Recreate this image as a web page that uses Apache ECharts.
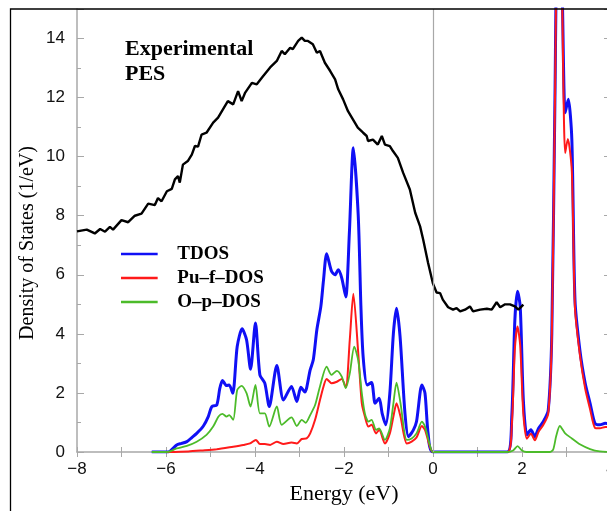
<!DOCTYPE html>
<html>
  <head>
    <meta charset="utf-8" />
    <title>DOS vs PES</title>
    <script src="https://cdn.jsdelivr.net/npm/echarts@6/dist/echarts.min.js"></script>
    <style>html, body { margin: 0; padding: 0; background: #fff; }</style>
  </head>
  <body>
    <div id="main" style="width: 607px;height:511px;"></div>
    <script type="text/javascript">

      // experimental PES (energy in eV, intensity)
      var pesE = [-8.00,-7.78,-7.60,-7.48,-7.37,-7.26,-7.19,-7.00,-6.85,-6.70,
        -6.55,-6.40,-6.25,-6.18,-6.10,-5.98,-5.87,-5.80,-5.73,-5.69,
        -5.62,-5.51,-5.42,-5.35,-5.28,-5.20,-5.09,-4.94,-4.83,-4.72,
        -4.61,-4.49,-4.38,-4.30,-4.22,-4.07,-3.96,-3.82,-3.66,-3.51,
        -3.40,-3.33,-3.21,-3.15,-3.03,-2.95,-2.88,-2.81,-2.70,-2.61,
        -2.54,-2.43,-2.31,-2.20,-2.13,-2.02,-1.91,-1.80,-1.69,-1.57,
        -1.49,-1.46,-1.35,-1.24,-1.15,-1.08,-0.97,-0.90,-0.79,-0.67,
        -0.52,-0.40,-0.29,-0.22,-0.11,0.00,0.08,0.16,0.22,0.34,
        0.45,0.53,0.61,0.72,0.83,0.90,1.06,1.21,1.32,1.43,
        1.51,1.62,1.73,1.84,1.92,2.03];
      var pesV = [7.47,7.53,7.40,7.55,7.46,7.62,7.53,7.85,7.78,8.00,
        8.07,8.41,8.36,8.60,8.49,8.83,8.91,9.23,9.34,9.12,
        9.73,9.85,10.07,10.36,10.34,10.75,10.81,11.15,11.32,11.60,
        11.88,11.77,12.22,11.88,12.17,12.50,12.45,12.72,13.02,13.24,
        13.58,13.47,13.69,13.64,13.92,14.03,13.92,13.92,13.81,13.52,
        13.58,13.18,12.90,12.62,12.28,11.94,11.54,11.26,10.98,10.81,
        10.70,10.53,10.58,10.41,10.70,10.41,10.36,10.19,9.96,9.45,
        8.89,8.10,7.64,7.19,6.40,5.70,5.40,5.38,5.16,4.90,
        4.82,4.87,4.76,4.82,4.93,4.76,4.82,4.85,4.82,5.07,
        4.90,5.00,5.00,4.93,4.82,4.99];

      // total DOS
      var tdosE = [-6.32,-5.95,-5.76,-5.65,-5.53,-5.42,-5.31,-5.16,-5.05,-4.97,
        -4.86,-4.79,-4.73,-4.64,-4.58,-4.50,-4.40,-4.29,-4.19,-4.10,
        -3.99,-3.89,-3.78,-3.68,-3.51,-3.36,-3.18,-3.06,-2.97,-2.88,
        -2.76,-2.69,-2.61,-2.52,-2.46,-2.39,-2.28,-2.20,-2.13,-2.05,
        -1.96,-1.88,-1.79,-1.68,-1.62,-1.57,-1.48,-1.38,-1.30,-1.21,
        -1.14,-1.06,-0.97,-0.89,-0.82,-0.74,-0.63,-0.55,-0.44,-0.37,
        -0.25,-0.18,-0.11,0.00,1.67,1.77,1.84,1.90,1.96,2.03,
        2.11,2.20,2.29,2.37,2.48,2.59,2.67,2.74,2.80,2.88,
        2.97,3.04,3.12,3.19,3.30,3.42,3.53,3.64,3.75,3.87,
        4.00];
      var tdosV = [0,0,0.24,0.29,0.35,0.49,0.63,0.88,1.20,1.54,
        1.59,2.16,2.42,2.25,2.27,1.99,3.57,4.17,3.80,2.80,
        4.37,2.61,2.33,1.54,2.93,1.76,2.22,1.71,2.19,2.03,
        2.78,3.12,4.14,4.93,5.83,6.71,6.12,6.00,6.17,5.89,
        5.25,7.40,10.30,8.00,4.93,3.23,2.27,2.35,1.65,1.82,
        1.29,0.92,1.99,4.02,4.87,3.91,1.31,0.52,0.75,1.03,
        2.27,1.99,0.63,0,0,1.20,4.48,5.44,4.93,1.76,
        0.58,0.75,0.52,0.80,1.03,1.42,4.02,11.94,17.5,17.0,
        11.49,11.94,10.58,5.16,3.46,2.33,1.65,0.97,0.92,0.97,
        0.95];

      // Pu f partial DOS
      var pufE = [-5.98,-5.50,-5.20,-4.86,-4.49,-4.26,-4.11,-3.98,-3.89,-3.78,
        -3.66,-3.51,-3.36,-3.18,-3.06,-2.95,-2.84,-2.76,-2.65,-2.54,
        -2.46,-2.39,-2.28,-2.16,-2.05,-1.96,-1.87,-1.79,-1.68,-1.60,
        -1.53,-1.45,-1.38,-1.28,-1.21,-1.08,-0.97,-0.89,-0.82,-0.73,
        -0.59,-0.48,-0.37,-0.25,-0.18,-0.07,0.00,1.67,1.77,1.84,
        1.90,1.96,2.03,2.11,2.20,2.29,2.37,2.48,2.59,2.67,
        2.74,2.80,2.88,2.97,3.03,3.12,3.19,3.30,3.42,3.53,
        3.64,3.75,3.87,4.00];
      var pufV = [0,0.02,0.05,0.09,0.18,0.24,0.29,0.41,0.27,0.27,
        0.24,0.35,0.27,0.32,0.29,0.44,0.46,0.63,1.09,1.76,
        2.22,2.47,2.33,2.38,2.47,2.19,3.80,5.36,3.35,1.65,
        1.20,0.86,0.92,0.63,0.75,0.29,0.63,1.20,1.65,1.20,
        0.29,0.35,0.49,0.88,0.75,0.18,0,0,0.90,3.50,
        4.25,3.60,1.30,0.45,0.62,0.40,0.68,0.92,1.30,3.90,
        11.8,17.3,16.8,10.13,10.60,9.50,4.90,3.30,2.15,1.45,
        0.82,0.80,0.85,0.85];

      // O p partial DOS
      var opE = [-6.32,-5.98,-5.76,-5.53,-5.31,-5.09,-4.94,-4.82,-4.73,-4.64,
        -4.58,-4.49,-4.40,-4.30,-4.19,-4.10,-3.99,-3.89,-3.78,-3.68,
        -3.51,-3.40,-3.18,-3.06,-2.95,-2.86,-2.76,-2.65,-2.54,-2.39,
        -2.28,-2.16,-2.05,-1.96,-1.87,-1.77,-1.68,-1.60,-1.53,-1.45,
        -1.38,-1.28,-1.21,-1.08,-0.97,-0.89,-0.82,-0.73,-0.59,-0.48,
        -0.37,-0.25,-0.18,-0.07,0.00,1.67,1.80,1.90,2.00,2.10,
        2.62,2.70,2.77,2.85,2.97,3.12,3.30,3.53,3.75,4.00];
      var opV = [0,0,0.12,0.21,0.35,0.58,0.86,1.20,1.29,1.20,
        1.25,1.09,2.10,2.24,1.99,1.54,2.27,1.31,1.31,0.86,
        1.54,0.92,1.17,0.88,1.09,0.99,1.25,1.59,2.22,2.89,
        2.61,2.75,2.55,2.16,2.66,3.57,3.10,2.00,1.30,1.03,
        1.09,0.75,0.80,0.41,0.80,1.65,2.35,1.65,0.41,0.46,
        0.63,1.03,0.86,0.23,0,0,0.05,0.20,0.05,0,
        0,0.08,0.55,0.88,0.63,0.46,0.26,0.10,0.02,0];

      var legendNames = ['TDOS', 'Pu\u2013f\u2013DOS', 'O\u2013p\u2013DOS'];

      function pairs(xs, ys) {
        var out = [];
        for (var i = 0; i < xs.length; i++) {
          out.push([xs[i], ys[i]]);
        }
        return out;
      }

      function tickText(v) {
        return v < 0 ? '\u2212' + (-v) : String(v);
      }

      var gray = '#a8a8a8';
      var chart = echarts.init(document.getElementById('main'));

      var option = {
        animation: false,
        grid: { left: 77, top: 9, width: 534, height: 443, outerBoundsMode: 'none', containLabel: false },
        xAxis: [
          {
            type: 'value', min: -8, max: 4, interval: 2, position: 'bottom',
            name: 'Energy (eV)', nameLocation: 'middle', nameGap: 29,
            nameTextStyle: { fontFamily: 'Liberation Serif', fontSize: 22, color: '#000' },
            axisLine: { show: true, onZero: false, lineStyle: { color: gray, width: 1.5 } },
            axisTick: { show: true, inside: true, length: 5, lineStyle: { color: gray } },
            minorTick: { show: true, splitNumber: 2, length: 5, lineStyle: { color: gray } },
            axisLabel: { margin: 9, fontFamily: 'Liberation Sans', fontSize: 17, color: '#111', formatter: tickText },
            splitLine: { show: false }
          },
          {
            type: 'value', min: -8, max: 4, interval: 2, position: 'top',
            axisLine: { show: false },
            axisTick: { show: true, inside: true, length: 5, lineStyle: { color: gray } },
            minorTick: { show: true, splitNumber: 2, length: 5, lineStyle: { color: gray } },
            axisLabel: { show: false },
            splitLine: { show: false }
          }
        ],
        yAxis: [
          {
            type: 'value', min: 0, max: 15, interval: 2, position: 'left',
            axisLine: { show: true, onZero: false, lineStyle: { color: gray, width: 1.5 } },
            axisTick: { show: true, inside: true, length: 7, lineStyle: { color: gray } },
            minorTick: { show: true, splitNumber: 2, length: 4, lineStyle: { color: gray } },
            axisLabel: { margin: 12, fontFamily: 'Liberation Sans', fontSize: 17, color: '#111', showMaxLabel: false },
            splitLine: { show: false }
          },
          {
            type: 'value', min: 0, max: 15, interval: 2, position: 'right',
            axisLine: { show: true, onZero: false, lineStyle: { color: gray, width: 1.5 } },
            axisTick: { show: true, inside: true, length: 7, lineStyle: { color: gray } },
            minorTick: { show: true, splitNumber: 2, length: 4, lineStyle: { color: gray } },
            axisLabel: { show: false },
            splitLine: { show: false }
          }
        ],
        legend: {
          data: legendNames,
          orient: 'vertical',
          left: 121, top: 244, padding: 0,
          icon: 'path://M0,0H44V3H0Z',
          itemWidth: 44, itemHeight: 2.5, itemGap: 4,
          textStyle: {
            fontFamily: 'Liberation Serif', fontWeight: 'bold', fontSize: 19,
            color: '#000', lineHeight: 20, padding: [0, 0, 0, 11]
          }
        },
        graphic: [
          {
            type: 'rect', silent: true, z: 100,
            shape: { x: 10.5, y: 9, width: 640, height: 540 },
            style: { fill: 'none', stroke: '#000', lineWidth: 1.3 }
          },
          {
            type: 'text', x: 125, y: 37, silent: true,
            style: {
              text: 'Experimental\nPES', font: 'bold 22px "Liberation Serif"',
              lineHeight: 25, fill: '#000', verticalAlign: 'top'
            }
          },
          {
            type: 'text', x: 28, y: 243, rotation: Math.PI / 2, silent: true,
            style: {
              text: 'Density of States (1/eV)', font: '20px "Liberation Serif"',
              fill: '#000', align: 'center', verticalAlign: 'middle'
            }
          }
        ],
        series: [
          {
            name: legendNames[0], type: 'line', data: pairs(tdosE, tdosV),
            symbol: 'none', smooth: 0.25, color: '#1010f5',
            lineStyle: { width: 3, color: '#1010f5' }
          },
          {
            name: legendNames[1], type: 'line', data: pairs(pufE, pufV),
            symbol: 'none', smooth: 0.25, color: '#ff1a1a',
            lineStyle: { width: 2, color: '#ff1a1a' }
          },
          {
            name: legendNames[2], type: 'line', data: pairs(opE, opV),
            symbol: 'none', smooth: 0.25, color: '#4cbb2a',
            lineStyle: { width: 1.8, color: '#4cbb2a' }
          },
          {
            name: 'PES', type: 'line', data: pairs(pesE, pesV),
            symbol: 'none', color: '#000',
            lineStyle: { width: 2.4, color: '#000' },
            markLine: {
              silent: true, symbol: ['none', 'none'], label: { show: false },
              lineStyle: { color: gray, width: 1.2, type: 'solid' },
              data: [{ xAxis: 0 }]
            }
          }
        ]
      };
      chart.setOption(option);
    </script>
  </body>
</html>
